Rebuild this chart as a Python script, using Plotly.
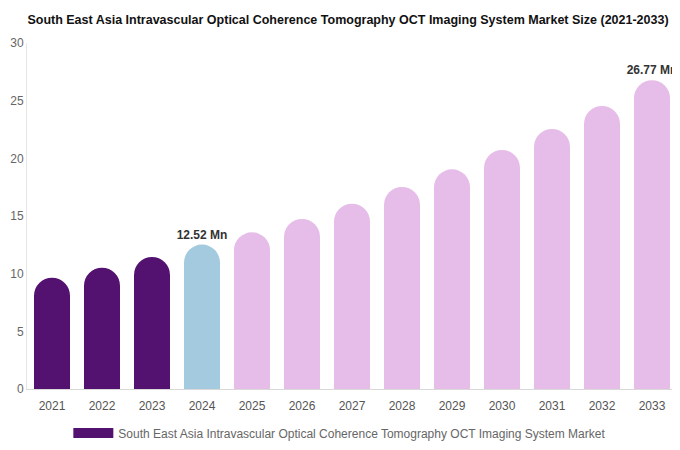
import plotly.graph_objects as go

years = ["2021", "2022", "2023", "2024", "2025", "2026", "2027",
         "2028", "2029", "2030", "2031", "2032", "2033"]
market_size = [9.65, 10.52, 11.45, 12.52, 13.59, 14.74, 16.07,
               17.52, 19.05, 20.73, 22.55, 24.54, 26.77]
bar_labels = ["", "", "", "12.52 Mn", "", "", "", "", "", "", "", "", "26.77 Mn"]

series_name = "South East Asia Intravascular Optical Coherence Tomography OCT Imaging System Market"
title_text = ("South East Asia Intravascular Optical Coherence Tomography "
              "OCT Imaging System Market Size (2021-2033)")

dark_purple = "#541270"
light_blue = "#A3CADF"
pink = "#E6BCE8"
bar_colors = [dark_purple] * 3 + [light_blue] + [pink] * 9

fig = go.Figure()
fig.add_trace(go.Bar(
    x=years, y=market_size,
    name=series_name,
    marker=dict(color=bar_colors, cornerradius="50%", line=dict(width=0)),
    text=bar_labels,
    textposition="outside",
    constraintext="none",
    textfont=dict(family="Liberation Sans", size=12, color="#333333", weight="bold"),
    cliponaxis=False,
    showlegend=False,
))
# empty line trace, only used for the wide legend swatch
fig.add_trace(go.Scatter(
    x=years, y=[None] * len(years), mode="lines", name=series_name,
    line=dict(color=dark_purple, width=12), hoverinfo="skip",
))

fig.update_layout(
    width=680, height=450,
    paper_bgcolor="white", plot_bgcolor="white",
    margin=dict(l=19, r=11, t=35, b=69, autoexpand=False),
    bargap=0.28,
    title=dict(text=title_text, x=0.5, xanchor="center", y=0.975, yanchor="middle",
               font=dict(family="Liberation Sans", size=12.5, color="#111111", weight="bold")),
    xaxis=dict(type="category", showgrid=False, showline=True, linecolor="#d9d9d9",
               linewidth=1, ticks="", automargin=False, ticklabelstandoff=6,
               tickfont=dict(family="Liberation Sans", size=12, color="#555555")),
    yaxis=dict(range=[0, 30], dtick=5, showgrid=False, zeroline=False,
               showline=True, linecolor="#e6e6e6", linewidth=1, ticks="",
               automargin=False,
               tickfont=dict(family="Liberation Sans", size=12, color="#666666")),
    legend=dict(orientation="h", xref="container", x=0.488, xanchor="center",
                y=-0.127, yanchor="middle", itemwidth=40,
                font=dict(family="Liberation Sans", size=12, color="#666666")),
)

fig.write_html("out.html")
